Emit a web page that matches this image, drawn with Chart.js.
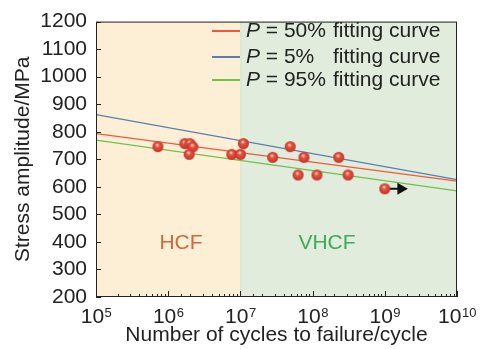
<!DOCTYPE html>
<html>
<head>
<meta charset="utf-8">
<script src="https://cdn.jsdelivr.net/npm/chart.js@4.4.1/dist/chart.umd.min.js"></script>
<style>
  html, body { margin: 0; padding: 0; background: #fff; }
  #wrap { width: 481px; height: 349px; }
</style>
</head>
<body>
<div id="wrap"><canvas id="myChart"></canvas></div>
<script>
// S-N data
const cycles = [7.2e5, 1.7e6, 2.0e6, 2.2e6, 1.95e6, 7.6e6, 1.0e7, 1.1e7, 2.8e7, 4.9e7, 7.6e7, 6.3e7, 1.15e8, 2.3e8, 3.1e8, 1.0e9];
const stress = [746, 757, 757, 745, 718, 718, 718, 757, 707, 746, 707, 643, 643, 707, 643, 593];

// fitting curves, value at both ends of the axis
const fitCycles = [1e5, 1e10];
const fitP50 = [793, 621];
const fitP5 = [862, 626];
const fitP95 = [770, 585];

// run-out arrow
const arrowCycles = [1.0e9, 1.67e9];
const arrowStress = [593, 593];

const yTicks = [200, 300, 400, 500, 600, 700, 800, 900, 1000, 1100, 1200];
const regionEdges = [1e5, 1e7, 1e10];
const regionNames = ['HCF', 'VHCF'];
const legendNames = ['50%', '5%', '95%'];

const FONT = '"Liberation Sans", Arial, sans-serif';

// little shaded sphere for the points
function makeBall(r) {
    const c = document.createElement('canvas');
    c.width = c.height = r * 2 + 2;
    const g = c.getContext('2d');
    const cx = r + 1, cy = r + 1;
    const grad = g.createRadialGradient(cx - r * 0.15, cy - r * 0.35, 0.5, cx, cy, r);
    grad.addColorStop(0, '#fbd3c8');
    grad.addColorStop(0.3, '#e8563f');
    grad.addColorStop(1, '#c2322a');
    g.fillStyle = grad;
    g.beginPath();
    g.arc(cx, cy, r, 0, Math.PI * 2);
    g.fill();
    return c;
}

const toXY = (xs, ys) => xs.map((x, i) => ({ x: x, y: ys[i] }));

const decor = {
    id: 'decor',
    beforeDatasetsDraw(chart) {
        const { ctx, chartArea: a, scales: { x } } = chart;
        const cols = ['#fdefd6', '#e1ecdc'];
        ctx.save();
        for (let i = 0; i < 2; i++) {
            const x0 = x.getPixelForValue(regionEdges[i]);
            const x1 = x.getPixelForValue(regionEdges[i + 1]);
            ctx.fillStyle = cols[i];
            ctx.fillRect(x0, a.top, x1 - x0, a.bottom - a.top);
        }
        // region boundary
        const xb = x.getPixelForValue(regionEdges[1]);
        ctx.strokeStyle = '#d5e6c4';
        ctx.lineWidth = 1;
        ctx.beginPath();
        ctx.moveTo(xb + 0.5, a.top);
        ctx.lineTo(xb + 0.5, a.bottom);
        ctx.stroke();

        ctx.font = '21px ' + FONT;
        ctx.textAlign = 'center';
        ctx.textBaseline = 'middle';
        ctx.fillStyle = '#cc6a3c';
        ctx.fillText(regionNames[0], 181, 243);
        ctx.fillStyle = '#3fab58';
        ctx.fillText(regionNames[1], 327, 243);
        ctx.restore();
    },
    afterDraw(chart) {
        const { ctx, chartArea: a, scales: { x, y } } = chart;
        ctx.save();
        ctx.strokeStyle = '#222';
        ctx.lineWidth = 1;
        // frame
        ctx.strokeRect(a.left + 0.5, a.top + 0.5, a.right - a.left - 1, a.bottom - a.top - 1);
        // inward ticks
        ctx.beginPath();
        y.ticks.forEach(t => {
            const py = Math.round(y.getPixelForValue(t.value)) + 0.5;
            ctx.moveTo(a.left, py);
            ctx.lineTo(a.left + 5, py);
        });
        x.ticks.forEach(t => {
            const lg = Math.log10(t.value);
            const major = Math.abs(lg - Math.round(lg)) < 1e-6;
            const px = Math.round(x.getPixelForValue(t.value)) + 0.5;
            ctx.moveTo(px, a.bottom);
            ctx.lineTo(px, a.bottom - (major ? 6 : 3));
        });
        ctx.stroke();

        // x tick labels 10^n
        ctx.fillStyle = '#222';
        ctx.textBaseline = 'alphabetic';
        ctx.textAlign = 'left';
        for (let n = 5; n <= 10; n++) {
            const px = x.getPixelForValue(Math.pow(10, n));
            ctx.font = '21px ' + FONT;
            const wb = ctx.measureText('10').width;
            ctx.font = '13px ' + FONT;
            const we = ctx.measureText(String(n)).width;
            const sx = px - (wb + we) / 2;
            ctx.font = '21px ' + FONT;
            ctx.fillText('10', sx, 323);
            ctx.font = '13px ' + FONT;
            ctx.fillText(String(n), sx + wb + 0.5, 317);
        }

        // legend
        const ds = chart.data.datasets;
        const rows = [31, 57, 80];
        ctx.textBaseline = 'middle';
        for (let i = 0; i < 3; i++) {
            const yy = rows[i];
            ctx.strokeStyle = ds[i].borderColor;
            ctx.lineWidth = 2;
            ctx.beginPath();
            ctx.moveTo(212, yy);
            ctx.lineTo(240, yy);
            ctx.stroke();
            ctx.fillStyle = '#222';
            ctx.font = 'italic 21px ' + FONT;
            ctx.fillText('P', 246, yy);
            const wp = ctx.measureText('P').width;
            ctx.font = '21px ' + FONT;
            ctx.fillText(' = ' + legendNames[i], 246 + wp, yy);
            ctx.fillText('fitting curve', 333, yy);
        }
        ctx.restore();
    }
};

const ctx = document.getElementById('myChart');
const myChart = new Chart(ctx, {
    type: 'scatter',
    data: {
        datasets: [
            {
                label: 'P = 50% fitting curve',
                type: 'line',
                data: toXY(fitCycles, fitP50),
                borderColor: '#ee5a3a',
                borderWidth: 1.3,
                pointRadius: 0,
                order: 3
            },
            {
                label: 'P = 5% fitting curve',
                type: 'line',
                data: toXY(fitCycles, fitP5),
                borderColor: '#5a7fae',
                borderWidth: 1.3,
                pointRadius: 0,
                order: 3
            },
            {
                label: 'P = 95% fitting curve',
                type: 'line',
                data: toXY(fitCycles, fitP95),
                borderColor: '#6cc24a',
                borderWidth: 1.3,
                pointRadius: 0,
                order: 3
            },
            {
                label: 'run-out',
                type: 'line',
                data: toXY(arrowCycles, arrowStress),
                borderColor: '#111',
                backgroundColor: '#111',
                borderWidth: 2,
                pointStyle: 'triangle',
                pointRotation: 90,
                pointRadius: [0, 7],
                pointBorderWidth: 0,
                order: 2
            },
            {
                label: 'test data',
                data: toXY(cycles, stress),
                pointStyle: makeBall(5.5),
                pointRadius: 5.5,
                order: 1
            }
        ]
    },
    options: {
        responsive: true,
        maintainAspectRatio: false,
        animation: false,
        layout: { padding: { left: 0, right: 24, top: 17, bottom: 0 } },
        plugins: {
            legend: { display: false },
            tooltip: { enabled: false }
        },
        scales: {
            x: {
                type: 'logarithmic',
                min: 1e5,
                max: 1e10,
                grid: { display: false },
                border: { display: false },
                ticks: { display: false },
                title: {
                    display: true,
                    text: 'Number of cycles to failure/cycle',
                    color: '#222',
                    font: { family: FONT, size: 21 },
                    padding: { top: 0, bottom: 1 }
                },
                afterFit: s => { s.height = 52; }
            },
            y: {
                min: 200,
                max: 1200,
                afterBuildTicks: s => { s.ticks = yTicks.map(v => ({ value: v })); },
                grid: { display: false, drawTicks: false },
                border: { display: false },
                ticks: {
                    color: '#222',
                    padding: 9,
                    autoSkip: false,
                    font: { family: FONT, size: 21 },
                    callback: v => String(v)
                },
                title: {
                    display: true,
                    text: 'Stress amplitude/MPa',
                    color: '#222',
                    font: { family: FONT, size: 21 },
                    padding: { top: 11, bottom: 0 }
                },
                afterFit: s => { s.width = 96; }
            }
        }
    },
    plugins: [decor]
});
</script>
</body>
</html>
